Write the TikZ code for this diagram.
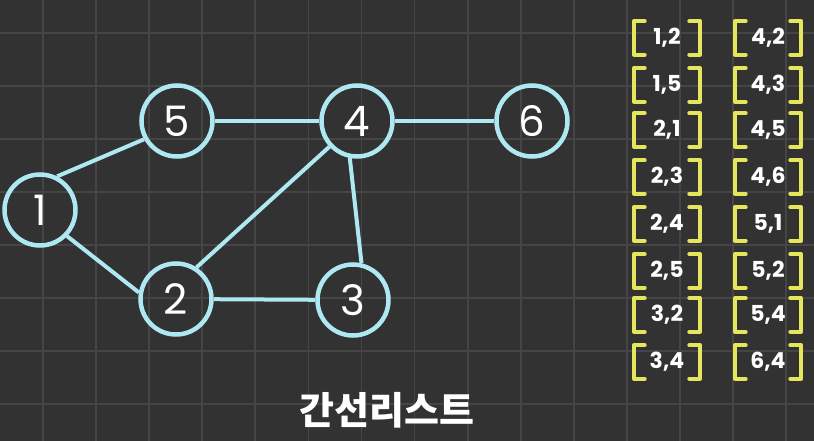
\documentclass[tikz,border=0pt]{standalone}
\usepackage{fontspec}
\setmainfont{Poppins}
\newfontfamily\kr{Noto Sans CJK KR}
\definecolor{bgc}{HTML}{323232}
\definecolor{gridc}{HTML}{454545}
\definecolor{edgec}{HTML}{AEE8F2}
\definecolor{yel}{HTML}{E6E65C}
\begin{document}
\begin{tikzpicture}[x=1pt,y=-1pt,
  vert/.style={circle,draw=edgec,line width=4.5pt,minimum size=71pt,inner sep=0pt,text=white,font=\fontsize{42}{42}\selectfont},
  link/.style={draw=edgec,line width=4pt},
  pair/.style={minimum width=66pt,minimum height=33pt,inner sep=0pt,text=white,font=\bfseries\fontsize{22}{22}\selectfont},
  brk/.style={draw=yel,line width=3.8pt,line cap=round,line join=round}]
\fill[bgc] (0,0) rectangle (814,441);
\useasboundingbox (0,0) rectangle (814,441);
\foreach \k in {0,...,14} \draw[gridc,line width=1.8pt] ({43+53.08*\k},0) -- ({43+53.08*\k},441);
\foreach \k in {0,...,7} \draw[gridc,line width=1.8pt] (0,{33+53*\k}) -- (814,{33+53*\k});
% vertices
\node[vert] (n1) at (40,210) {1};
\node[vert] (n5) at (177,121) {5};
\node[vert] (n4) at (357,121) {4};
\node[vert] (n6) at (532,121) {6};
\node[vert] (n2) at (176,299) {2};
\node[vert] (n3) at (353,300) {3};
% edges
\draw[link] (n1.63) -- (n5.209);
\draw[link] (n1.316) -- (n2.170);
\draw[link] (n5) -- (n4);
\draw[link] (n4) -- (n6);
\draw[link] (n2.57) -- (n4.223);
\draw[link] (n2) -- (n3);
\draw[link] (n4.259) -- (n3.77);
% edge list
\foreach \t/\y [count=\i] in {{1,2}/38,{1,5}/85,{2,1}/130,{2,3}/177,{2,4}/224,{2,5}/271,{3,2}/315,{3,4}/362}{
  \node[pair] (a\i) at (667,\y) {\t};
  \draw[brk] ([xshift=11pt]a\i.north west) -- (a\i.north west) -- (a\i.south west) -- ([xshift=11pt]a\i.south west);
  \draw[brk] ([xshift=-11pt]a\i.north east) -- (a\i.north east) -- (a\i.south east) -- ([xshift=-11pt]a\i.south east);
}
\foreach \t/\y [count=\i] in {{4,2}/38,{4,3}/85,{4,5}/130,{4,6}/177,{5,1}/224,{5,2}/271,{5,4}/315,{6,4}/362}{
  \node[pair] (b\i) at (768,\y) {\t};
  \draw[brk] ([xshift=11pt]b\i.north west) -- (b\i.north west) -- (b\i.south west) -- ([xshift=11pt]b\i.south west);
  \draw[brk] ([xshift=-11pt]b\i.north east) -- (b\i.north east) -- (b\i.south east) -- ([xshift=-11pt]b\i.south east);
}
\node[text=white,font=\kr\bfseries\fontsize{38}{38}\selectfont] (title) at (387,410) {간선리스트};
\end{tikzpicture}
\end{document}
